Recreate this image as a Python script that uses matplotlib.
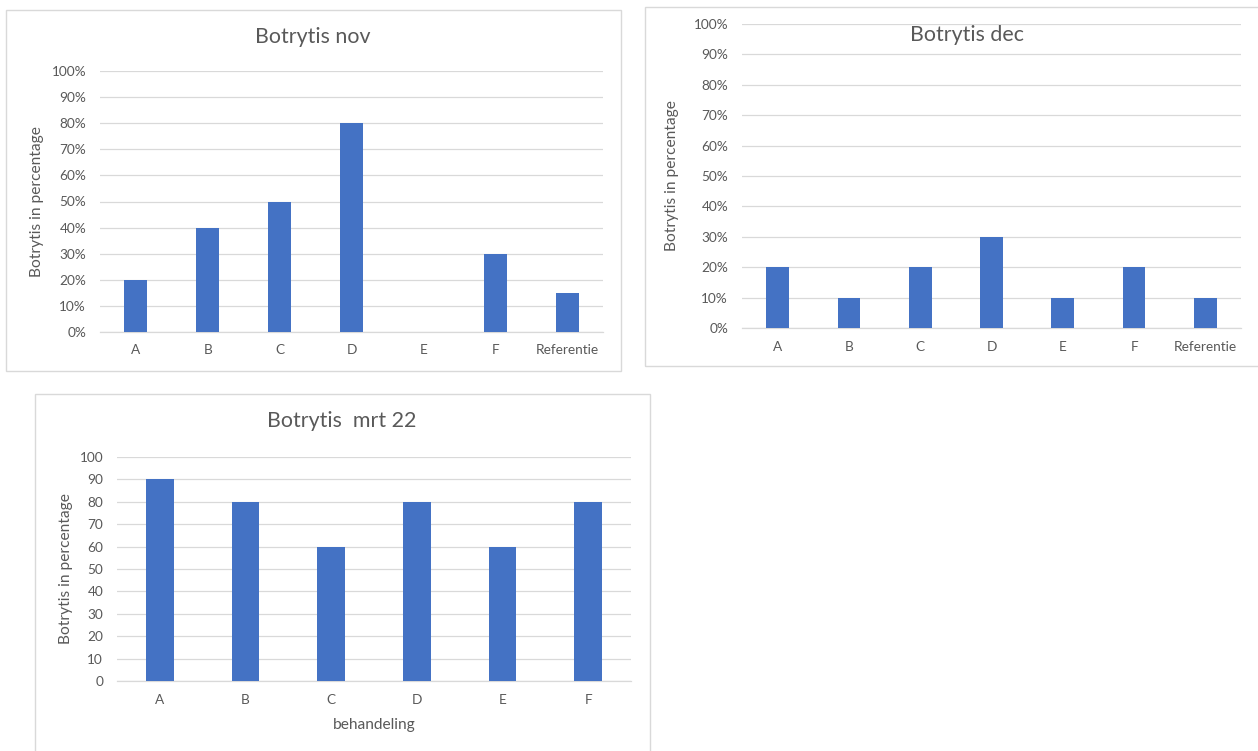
import matplotlib
matplotlib.use("Agg")
import matplotlib.pyplot as plt
from matplotlib.patches import Rectangle
from matplotlib.ticker import FixedLocator

W, H = 1258, 751
DPI = 100

# Data
cats_nov = ["A", "B", "C", "D", "E", "F", "Referentie"]
vals_nov = [0.20, 0.40, 0.50, 0.80, 0.0, 0.30, 0.15]

cats_dec = ["A", "B", "C", "D", "E", "F", "Referentie"]
vals_dec = [0.20, 0.10, 0.20, 0.30, 0.10, 0.20, 0.10]

cats_mrt = ["A", "B", "C", "D", "E", "F"]
vals_mrt = [90, 80, 60, 80, 60, 80]

pct_ticks = [i / 10 for i in range(11)]
pct_labels = [f"{i * 10}%" for i in range(11)]
num_ticks = list(range(0, 101, 10))
num_labels = [str(v) for v in num_ticks]

BAR = "#4472C4"
GRID = "#D9D9D9"
TXT = "#595959"
FONT = "Lato"

plt.rcParams["font.family"] = [FONT, "DejaVu Sans"]

fig = plt.figure(figsize=(W / DPI, H / DPI), dpi=DPI)
fig.patch.set_facecolor("white")


def box(x0, y0, x1, y1):
    """pixel box (top-left origin) -> figure fraction rect"""
    return [x0 / W, 1 - y1 / H, (x1 - x0) / W, (y1 - y0) / H]


def frame(x0, y0, x1, y1):
    r = Rectangle((x0 / W, 1 - y1 / H), (x1 - x0) / W, (y1 - y0) / H,
                  transform=fig.transFigure, fill=False, edgecolor=GRID,
                  linewidth=1.0, zorder=0)
    fig.add_artist(r)


def panel(rect, cats, vals, ymax, ticks, labels, title, title_xy, ylabel_x,
          xlabel=None, xlabel_y=None):
    ax = fig.add_axes(box(*rect))
    x = list(range(len(cats)))
    ax.bar(x, vals, width=0.32, color=BAR, zorder=3)
    ax.set_xlim(-0.5, len(cats) - 0.5)
    ax.set_ylim(0, ymax)
    ax.yaxis.set_major_locator(FixedLocator(ticks))
    ax.set_yticklabels(labels)
    ax.set_xticks(x)
    ax.set_xticklabels(cats)
    ax.tick_params(axis="both", length=0, colors=TXT, labelsize=9.8)
    ax.tick_params(axis="y", pad=10)
    ax.tick_params(axis="x", pad=9)
    ax.grid(axis="y", color=GRID, linewidth=0.9, zorder=0)
    for s in ["left", "right", "top"]:
        ax.spines[s].set_visible(False)
    ax.spines["bottom"].set_color(GRID)
    ax.spines["bottom"].set_linewidth(0.9)
    ax.set_facecolor("none")
    fig.text(title_xy[0] / W, 1 - title_xy[1] / H, title, ha="center",
             va="center", fontsize=15.4, color=TXT)
    yc = (rect[1] + rect[3]) / 2
    fig.text(ylabel_x / W, 1 - yc / H, "Botrytis in percentage", rotation=90,
             ha="center", va="center", fontsize=11.2, color=TXT)
    if xlabel:
        fig.text((rect[0] + rect[2]) / 2 / W, 1 - xlabel_y / H, xlabel,
                 ha="center", va="center", fontsize=11.2, color=TXT)
    return ax


# chart frames
frame(6, 10, 621, 371)
frame(645, 7, 1262, 366)
frame(35, 394, 650, 760)

panel((100, 71, 603, 332), cats_nov, vals_nov, 1.0, pct_ticks, pct_labels,
      "Botrytis nov", (313, 37), 37)
panel((742, 24, 1241, 328), cats_dec, vals_dec, 1.0, pct_ticks, pct_labels,
      "Botrytis dec", (967, 35), 672)
panel((117, 457, 631, 681), cats_mrt, vals_mrt, 100, num_ticks, num_labels,
      "Botrytis  mrt 22", (342, 421), 66, xlabel="behandeling", xlabel_y=725)

fig.savefig("out.png", dpi=DPI)
